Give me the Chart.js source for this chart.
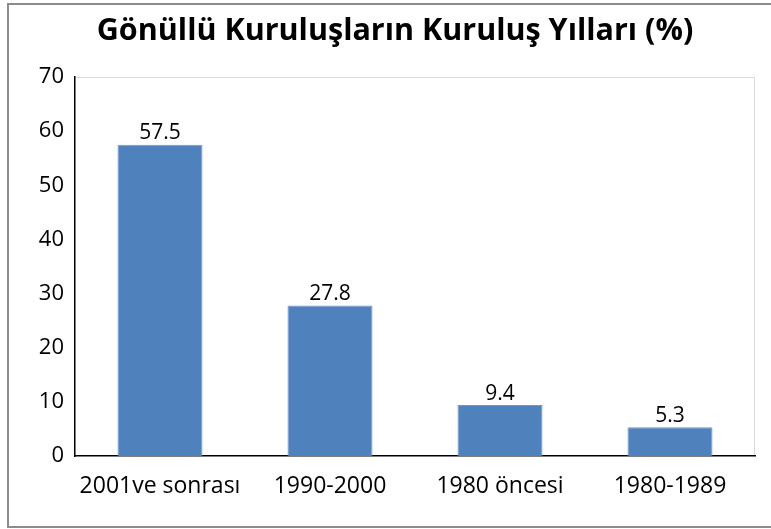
<!DOCTYPE html>
<html>
<head>
<meta charset="utf-8">
<script src="https://cdn.jsdelivr.net/npm/chart.js@4"></script>
<style>
  html, body { margin: 0; padding: 0; background: #fff; }
  #wrap { width: 771px; height: 529px; position: relative; }
</style>
</head>
<body>
<div id="wrap"><canvas id="chart" width="771" height="529"></canvas></div>
<script>
// chart data
const categories = ['2001ve sonrası', '1990-2000', '1980 öncesi', '1980-1989'];
const values = [57.5, 27.8, 9.4, 5.3];
const yTicks = [0, 10, 20, 30, 40, 50, 60, 70];
const title = 'Gönüllü Kuruluşların Kuruluş Yılları (%)';

const FONT = '"Open Sans", Lato, sans-serif';

// outer frame, title, plot-area frame and value labels
const decor = {
  id: 'decor',
  beforeDraw(chart) {
    const ctx = chart.ctx;
    ctx.save();
    ctx.fillStyle = '#fff';
    ctx.fillRect(0, 0, chart.width, chart.height);
    ctx.strokeStyle = '#8c8c8c';
    ctx.lineWidth = 2;
    ctx.beginPath();
    ctx.moveTo(chart.width, 4);
    ctx.lineTo(8, 4);
    ctx.lineTo(8, 527);
    ctx.lineTo(chart.width, 527);
    ctx.stroke();
    const a = chart.chartArea;
    ctx.strokeStyle = '#d9d9d9';
    ctx.lineWidth = 1;
    ctx.beginPath();
    ctx.moveTo(a.left, a.top + 0.5);
    ctx.lineTo(a.right - 0.5, a.top + 0.5);
    ctx.lineTo(a.right - 0.5, a.bottom);
    ctx.stroke();
    ctx.font = 'bold 30.5px ' + FONT;
    ctx.fillStyle = '#000';
    ctx.textAlign = 'center';
    ctx.textBaseline = 'middle';
    ctx.fillText(title, 395, 31);
    ctx.restore();
  },
  afterDatasetsDraw(chart) {
    const ctx = chart.ctx;
    const meta = chart.getDatasetMeta(0);
    ctx.save();
    ctx.font = '21px ' + FONT;
    ctx.fillStyle = '#000';
    ctx.textAlign = 'center';
    ctx.textBaseline = 'bottom';
    meta.data.forEach((bar, i) => {
      ctx.fillText(values[i].toFixed(1), bar.x, bar.y - 1);
    });
    ctx.restore();
  }
};

new Chart(document.getElementById('chart'), {
  type: 'bar',
  data: {
    labels: categories,
    datasets: [{
      data: values,
      backgroundColor: '#4f81bd',
      borderColor: '#6f97c8',
      borderWidth: 1,
      categoryPercentage: 1,
      barPercentage: 0.5
    }]
  },
  options: {
    responsive: false,
    animation: false,
    layout: { padding: { left: 0, right: 16, top: 77, bottom: 0 } },
    plugins: {
      legend: { display: false },
      tooltip: { enabled: false },
      title: { display: false }
    },
    scales: {
      x: {
        grid: { display: false, drawTicks: false },
        border: { display: true, color: '#000', width: 1.5 },
        ticks: { color: '#000', font: { family: FONT, size: 23 }, padding: 17, maxRotation: 0 },
        afterFit(s) { s.height = 73; }
      },
      y: {
        min: 0,
        max: 70,
        grid: { display: false, drawTicks: false },
        border: { display: true, color: '#000', width: 1.5 },
        afterBuildTicks(s) { s.ticks = yTicks.map(v => ({ value: v })); },
        ticks: { color: '#000', font: { family: FONT, size: 22 }, padding: 11 },
        afterFit(s) { s.width = 75; }
      }
    }
  },
  plugins: [decor]
});
</script>
</body>
</html>
